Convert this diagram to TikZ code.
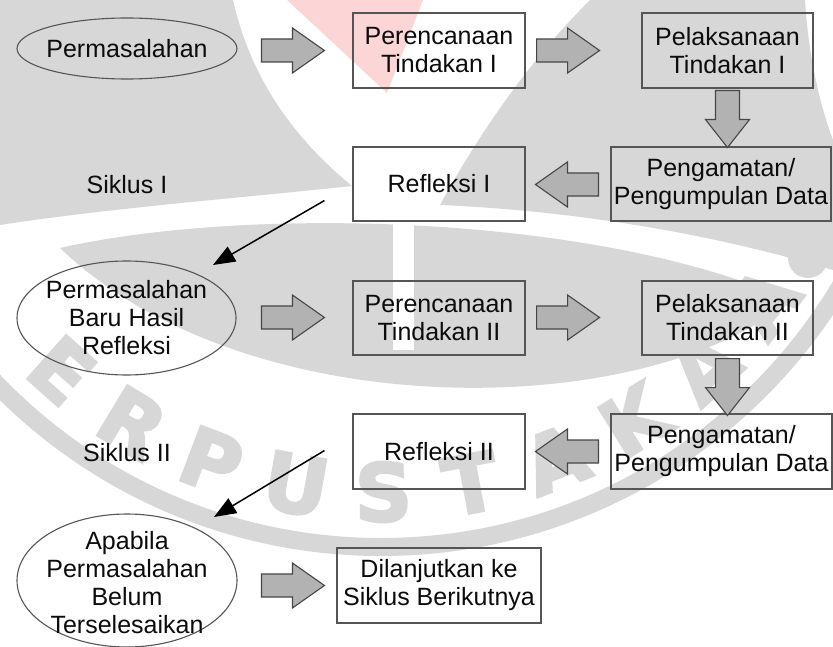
\documentclass[tikz,border=0pt]{standalone}
\usepackage{fontspec}
\setmainfont{Liberation Sans}
\newfontfamily\wmfont[FakeBold=3]{DejaVu Sans}
\usetikzlibrary{shapes.geometric,arrows.meta,calc}
\definecolor{wm}{RGB}{215,215,215}
\definecolor{wmpink}{RGB}{252,214,214}
\definecolor{arrfill}{RGB}{178,178,178}
\definecolor{arrline}{RGB}{70,70,70}
\definecolor{boxline}{RGB}{85,85,85}
\definecolor{txt}{RGB}{12,12,12}
\tikzset{
  txtfont/.style={text=txt,font=\fontsize{25}{28}\selectfont},
  box/.style={draw=boxline,line width=1.1pt,minimum width=172pt,minimum height=75pt,inner sep=0pt,align=center,txtfont},
  oval/.style={ellipse,draw=boxline,line width=1.1pt,inner sep=0pt},
  lbl/.style={align=center,inner sep=0pt,txtfont},
  blk/.style={fill=arrfill,draw=arrline,line width=1.1pt,line join=miter},
  con/.style={line width=1.5pt,black,-{Triangle[length=22pt,width=17pt]}},
  wmletter/.style={text=wm,font=\wmfont\bfseries\fontsize{80}{80}\selectfont,inner sep=0pt},
  barrowh/.pic={\path[blk] (0,-11.5) -- (31,-11.5) -- (31,-22.5) -- (63,0) -- (31,22.5) -- (31,11.5) -- (0,11.5) -- cycle;},
  barrowv/.pic={\path[blk] (0,-12) -- (29,-12) -- (29,-22) -- (57,0) -- (29,22) -- (29,12) -- (0,12) -- cycle;}
}
\begin{document}
\begin{tikzpicture}[x=1pt,y=-1pt]
\useasboundingbox (0,0) rectangle (833,647);
\fill[white] (0,0) rectangle (833,647);
% watermark (background stamp)
\begin{scope}
\clip (0,0) rectangle (833,647);
\fill[wm] (0,0) -- (233,0) .. controls (250,75) and (290,135) .. (352,186) .. controls (240,198) and (110,208) .. (0,225) -- cycle;
\fill[wmpink] (287,0) -- (423,0) -- (387,93) -- cycle;
\fill[wm] (590,0) .. controls (520,70) and (470,150) .. (440,205) .. controls (560,210) and (700,230) .. (833,270) -- (833,140) .. controls (818,100) and (808,50) .. (805,0) -- cycle;
\fill[wm] (60,248) .. controls (250,205) and (600,215) .. (790,300) .. controls (650,420) and (250,430) .. (60,248) -- cycle;
\fill[white] (393,200) rectangle (414,350);
\draw[wm,line width=18pt] (381,12) circle[radius=535];
\fill[wm] (808,258) circle[radius=20];
\foreach \ang/\ch in {131.7/E,121.2/R,110.7/P,100.2/U,89.7/S,79.2/T,68.7/A,58.2/K,47.7/A,37.2/A}
  \node[wmletter,rotate=90-\ang] at ($(381,12)+(\ang:480)$) {\ch};
\end{scope}

% nodes
\node[oval,minimum width=220pt,minimum height=61pt] (ell1) at (127,48.5) {};
\node[lbl] (ell1t) at (ell1.center) {Permasalahan};
\node[box] (b1) at (439,50.5) {Perencanaan\\Tindakan I};
\node[box,minimum width=171pt] (b2) at (727.5,50.5) {Pelaksanaan\\Tindakan I};
\node[box,minimum width=220pt,minimum height=74pt] (b3) at (721,184) {Pengamatan/\\Pengumpulan Data};
\node[box,minimum height=74pt] (b4) at (439,184) {Refleksi I};
\node[lbl] (s1) at (127,185) {Siklus I};

\node[oval,minimum width=219pt,minimum height=114pt] (ell2) at (126.5,318) {};
\node[lbl] (ell2t) at (ell2.center) {Permasalahan\\Baru Hasil\\Refleksi};
\node[box,minimum height=74pt] (b5) at (439,318) {Perencanaan\\Tindakan II};
\node[box,minimum width=171pt,minimum height=74pt] (b6) at (727.5,318) {Pelaksanaan\\Tindakan II};
\node[box,minimum width=221pt] (b7) at (721.5,451.5) {Pengamatan/\\Pengumpulan Data};
\node[box] (b8) at (439,451.5) {Refleksi II};
\node[lbl] (s2) at (127,453) {Siklus II};

\node[oval,minimum width=220pt,minimum height=133pt] (ell3) at (127,580.5) {};
\node[lbl] (ell3t) at (127,582.5) {Apabila\\Permasalahan\\Belum\\Terselesaikan};
\node[box,minimum width=204pt] (b9) at (439,585.5) {Dilanjutkan ke\\Siklus Berikutnya};

% block arrows
\pic at ($(b1.west)+(-91,0)$) {barrowh};
\pic at ($(b1.east)+(11,0)$) {barrowh};
\pic[rotate=-90] at ($(b2.south)+(0,2)$) {barrowv};
\pic[rotate=180] at ($(b3.west)+(-12,0.5)$) {barrowh};
\pic at ($(b5.west)+(-91,-0.5)$) {barrowh};
\pic at ($(b5.east)+(11,-0.5)$) {barrowh};
\pic[rotate=-90] at ($(b6.south)+(0,3)$) {barrowv};
\pic[rotate=180] at ($(b7.west)+(-12,0)$) {barrowh};
\pic at ($(b9.west)+(-75,0)$) {barrowh};

% connectors
\draw[con] ($(b4.south west)+(-28,-21)$) -- ($(ell2.center)+(86.5,-53)$);
\draw[con] ($(b8.south west)+(-28,-39)$) -- ($(ell3.center)+(87,-63.5)$);
\end{tikzpicture}
\end{document}
